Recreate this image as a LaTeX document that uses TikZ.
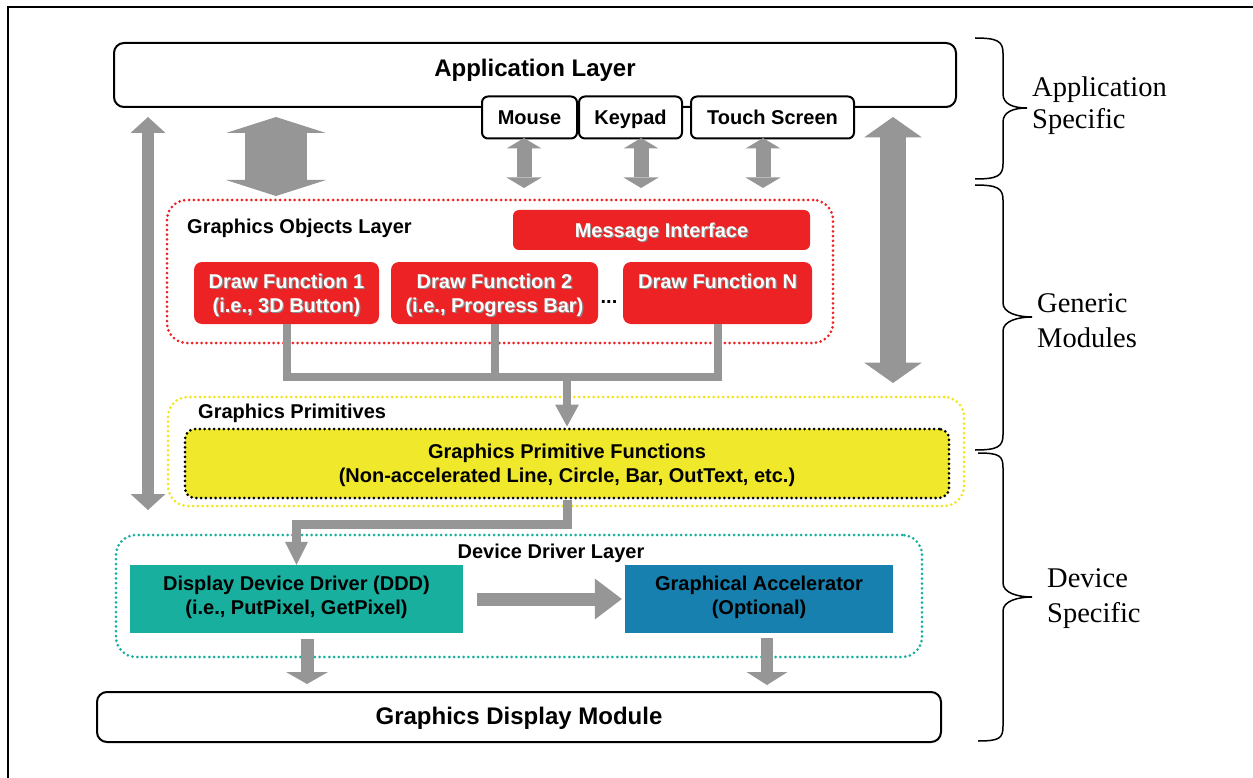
\documentclass[tikz,border=0pt]{standalone}
\usepackage{fontspec}
\setmainfont{Liberation Sans}
\newfontfamily\tmsfont{Liberation Serif}
\usetikzlibrary{arrows.meta,calc}

\definecolor{fnred}{HTML}{ED2224}
\definecolor{primyellow}{HTML}{F0E82A}
\definecolor{dotyellow}{HTML}{F2E620}
\definecolor{drvteal}{HTML}{19AF9E}
\definecolor{accblue}{HTML}{1880AE}
\definecolor{arrgray}{HTML}{969696}

% white label text with a soft drop shadow
\newcommand\shd[1]{\makebox[0pt][l]{\hspace{1.2pt}\raisebox{-1.2pt}{\color{black!45}#1}}#1}

% curly brace on the right margin: top y, tip y, bottom y, end x, tip x
\newcommand\sidebrace[5]{%
  \draw[line width=1.5pt]
    (#4,#1) .. controls (#4+22,#1) and (1003,#1+3) .. (1003,#1+15)
    -- (1003,#2-14) .. controls (1003,#2-4) and (#5-14,#2) .. (#5,#2)
    .. controls (#5-14,#2) and (1003,#2+4) .. (1003,#2+14)
    -- (1003,#3-15) .. controls (1003,#3-3) and (#4+22,#3) .. (#4,#3);}

\tikzset{
  lbl/.style={font=\bfseries\fontsize{20}{24}\selectfont, align=center, inner sep=0pt, text depth=0pt},
  ttl/.style={font=\bfseries\fontsize{24}{28}\selectfont, inner sep=0pt, text depth=0pt},
  side/.style={font=\tmsfont\fontsize{28.5}{33}\selectfont, inner sep=0pt, anchor=base west},
  layerbox/.style={draw=black, line width=2pt, rounded corners=10pt, fill=white, inner sep=0pt},
  inbox/.style={draw=black, line width=2pt, rounded corners=6pt, fill=white, inner sep=0pt,
    minimum height=42pt, lbl},
  redbox/.style={fill=fnred, rounded corners=8pt, text=white, lbl},
  flatbox/.style={lbl, text=black, minimum height=68pt, text depth=8pt},
  dotframe/.style={line width=3pt, dash pattern=on 0pt off 4.8pt, line cap=round,
    rounded corners=20pt, inner sep=0pt},
  bar/.style={draw=arrgray, line width=8pt},
  dbl/.style n args={3}{draw=arrgray, line width=#1,
    arrows={Triangle[width=#2,length=#3,line width=0pt]-Triangle[width=#2,length=#3,line width=0pt]}},
  sgl/.style n args={3}{draw=arrgray, line width=#1,
    arrows={-Triangle[width=#2,length=#3,line width=0pt]}},
}

\begin{document}
\begin{tikzpicture}[x=1pt,y=-1pt]
\useasboundingbox (0,0) rectangle (1253,778);

% page frame
\draw[line width=1.3pt] (8,778) -- (8,7) -- (1253,7);

% application layer and input devices
\node[layerbox, minimum width=842pt, minimum height=64pt] (app) at (535,75) {};
\node[ttl] (apptitle) at (535,68) {Application Layer};
\node[inbox, minimum width=95pt] (mouse) at (529.5,117.5) {Mouse};
\node[inbox, minimum width=103pt] (keypad) at (630.5,117.5) {Keypad};
\node[inbox, minimum width=163pt] (touch) at (772.5,117.5) {Touch Screen};

% graphics objects layer
\node[dotframe, draw=fnred, minimum width=666pt, minimum height=143pt] (gol) at (500,271.5) {};
\node[lbl, anchor=west] (goltitle) at (187,226) {Graphics Objects Layer};
\node[redbox, rounded corners=6pt, minimum width=297pt, minimum height=40pt] (msg) at (661.5,230) {\shd{Message Interface}};
\node[redbox, minimum width=185pt, minimum height=62pt] (df1) at (286.5,293) {\shd{Draw Function 1}\\\shd{(i.e., 3D Button)}};
\node[redbox, minimum width=207pt, minimum height=62pt] (df2) at (494.5,293) {\shd{Draw Function 2}\\\shd{(i.e., Progress Bar)}};
\node[redbox, minimum width=189pt, minimum height=62pt] (dfn) at (717.5,293) {\shd{Draw Function N}\\\mbox{}};
\node[lbl] (ellip) at (609,302.5) {...};

% graphics primitives
\node[dotframe, draw=dotyellow, minimum width=796pt, minimum height=109pt] (gp) at (566,451.5) {};
\node[lbl, anchor=west] (gptitle) at (198,411) {Graphics Primitives};
\node[dotframe, draw=black, fill=primyellow, rounded corners=10pt, minimum width=764pt, minimum height=69pt, lbl] (gpf) at (567,463.5)
  {Graphics Primitive Functions\\(Non-accelerated Line, Circle, Bar, OutText, etc.)};

% device driver layer
\node[dotframe, draw=drvteal, minimum width=806pt, minimum height=122pt] (ddl) at (519,596) {};
\node[lbl] (ddltitle) at (551,551) {Device Driver Layer};
\node[flatbox, fill=drvteal, minimum width=333pt] (ddd) at (296.5,599) {Display Device Driver (DDD)\\(i.e., PutPixel, GetPixel)};
\node[flatbox, fill=accblue, minimum width=268pt] (ga) at (759,599) {Graphical Accelerator\\(Optional)};

% display module
\node[layerbox, minimum width=844pt, minimum height=50pt] (gdm) at (519,717) {};
\node[ttl] (gdmtitle) at (519,716) {Graphics Display Module};

% arrow end points
\coordinate (la1) at (148,117);   \coordinate (la2) at (148,510);
\coordinate (ba1) at (276,117);   \coordinate (ba2) at (276,196);
\coordinate (ma1) at (524,138);   \coordinate (ma2) at (524,188);
\coordinate (ka1) at (641,138);   \coordinate (ka2) at (641,188);
\coordinate (ta1) at (763,138);   \coordinate (ta2) at (763,188);
\coordinate (ra1) at (893,117);   \coordinate (ra2) at (893,383);
\coordinate (bus) at (567,377);
\coordinate (da1) at (307,639);   \coordinate (da2) at (307,684);
\coordinate (aa1) at (767,638);   \coordinate (aa2) at (767,685);

% block arrows
\draw[dbl={12pt}{35pt}{16pt}] (la1) -- (la2);
\draw[dbl={62pt}{100pt}{16pt}] (ba1) -- (ba2);
\draw[dbl={15pt}{35pt}{10.5pt}] (ma1) -- (ma2);
\draw[dbl={15pt}{35pt}{10.5pt}] (ka1) -- (ka2);
\draw[dbl={15pt}{35pt}{10.5pt}] (ta1) -- (ta2);
\draw[dbl={26pt}{58pt}{20.5pt}] (ra1) -- (ra2);

% draw functions feed the primitives
\draw[bar] (df1.south) -- (df1.south |- bus) -- (dfn.south |- bus) -- (dfn.south);
\draw[bar] (df2.south) -- (df2.south |- bus);
\draw[sgl={8pt}{24pt}{22pt}] (bus) -- ([yshift=1pt]gpf.north);

% primitives feed the device driver
\draw[bar, line width=9pt, arrows={-Triangle[width=23pt,length=23pt,line width=0pt]}]
  (gpf.south) -- ++(0,25) -| (ddd.north);

% driver to accelerator, and both to the display
\draw[sgl={13pt}{41pt}{27pt}] ([xshift=14pt]ddd.east) -- ([xshift=-3pt]ga.west);
\draw[sgl={13pt}{42pt}{12pt}] (da1) -- (da2);
\draw[sgl={12pt}{41pt}{13pt}] (aa1) -- (aa2);

% side braces and their captions
\sidebrace{38}{108}{179}{975}{1027}
\sidebrace{185}{317}{450}{975}{1032}
\sidebrace{453}{597}{741}{978}{1032}
\node[side] (as1) at (1032,97) {Application};
\node[side] (as2) at (1032,129) {Specific};
\node[side] (gm1) at (1037,312) {Generic};
\node[side] (gm2) at (1037,347) {Modules};
\node[side] (ds1) at (1047,587) {Device};
\node[side] (ds2) at (1047,622) {Specific};
\end{tikzpicture}
\end{document}
